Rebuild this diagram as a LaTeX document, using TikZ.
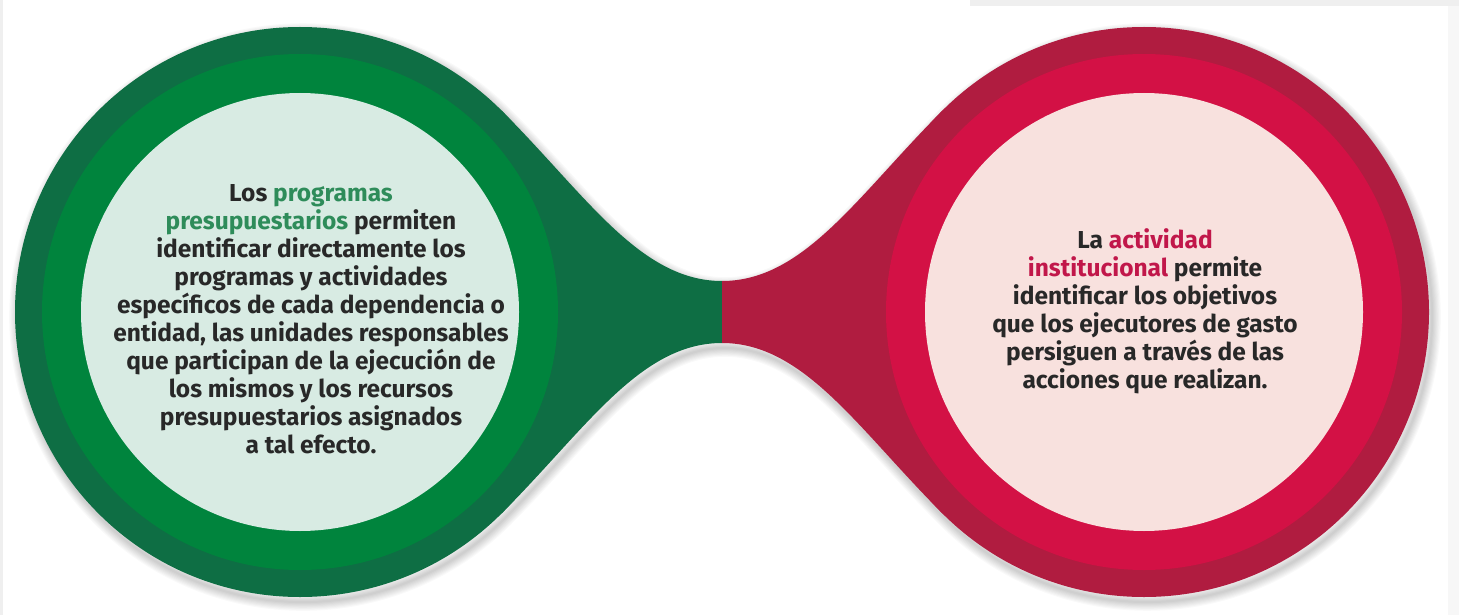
\documentclass[tikz,border=0pt]{standalone}
\usepackage{fontspec}
\setmainfont{Fira Sans}
\definecolor{gdark}{RGB}{14,110,68}
\definecolor{gmid}{RGB}{0,132,61}
\definecolor{glight}{RGB}{216,235,227}
\definecolor{gtext}{RGB}{46,140,90}
\definecolor{rdark}{RGB}{176,28,64}
\definecolor{rmid}{RGB}{211,17,69}
\definecolor{rlight}{RGB}{248,225,222}
\definecolor{rtext}{RGB}{193,23,74}
\definecolor{txt}{RGB}{40,40,40}
\definecolor{bggray}{RGB}{239,239,239}
\def\dumbbellpath{(501.5,110.5) arc[start angle=-45, end angle=-315, radius=285] .. controls (586,429) and (640,343) .. (722,343) .. controls (804,343) and (858,429) .. (942.5,513.5) arc[start angle=135, end angle=-135, radius=285] .. controls (858,195) and (804,281) .. (722,281) .. controls (640,281) and (586,195) .. (501.5,110.5) -- cycle}
\tikzset{
  disc/.style={circle, inner sep=0pt, outer sep=0pt, minimum size=#1},
  bodytext/.style={align=center, text=txt, font={\fontsize{24.5}{28}\selectfont\bfseries}},
}
\begin{document}
\begin{tikzpicture}[x=1pt,y=-1pt]
\useasboundingbox (0,0) rectangle (1459,615);
\fill[white] (0,0) rectangle (1459,615);
\fill[bggray] (0,0) rectangle (3,615);
\fill[bggray] (970,0) rectangle (1459,6);
\fill[bggray!50] (1448,6) rectangle (1459,615);
% soft shadow
\foreach \w in {1,...,8}
  \draw[black, opacity=0.022, line width=\w*2.2pt, shift={(3,5)}] \dumbbellpath;
% outer discs and neck
\node[disc=570pt, fill=gdark] (gouter) at (300,312) {};
\node[disc=570pt, fill=rdark] (router) at (1144,312) {};
\fill[gdark] (501.5,110.5) .. controls (586,195) and (640,281) .. (722,281) -- (722,343) .. controls (640,343) and (586,429) .. (501.5,513.5) -- cycle;
\fill[rdark] (942.5,110.5) .. controls (858,195) and (804,281) .. (722,281) -- (722,343) .. controls (804,343) and (858,429) .. (942.5,513.5) -- cycle;
% rings
\node[disc=516pt, fill=gmid] (gring) at (300,312) {};
\node[disc=516pt, fill=rmid] (rring) at (1144,312) {};
\node[disc=438pt, fill=glight] (ginner) at (300,312) {};
\node[disc=438pt, fill=rlight] (rinner) at (1144,312) {};
% texts
\node[bodytext] (ltext) at (311,319) {Los \textcolor{gtext}{programas}\\
\textcolor{gtext}{presupuestarios} permiten\\
identificar directamente los\\
programas y actividades\\
específicos de cada dependencia o\\
entidad, las unidades responsables\\
que participan de la ejecución de\\
los mismos y los recursos\\
presupuestarios asignados\\
a tal efecto.};
\node[bodytext] (rtext) at (1145,311) {La \textcolor{rtext}{actividad}\\
\textcolor{rtext}{institucional} permite\\
identificar los objetivos\\
que los ejecutores de gasto\\
persiguen a través de las\\
acciones que realizan.};
\end{tikzpicture}
\end{document}
